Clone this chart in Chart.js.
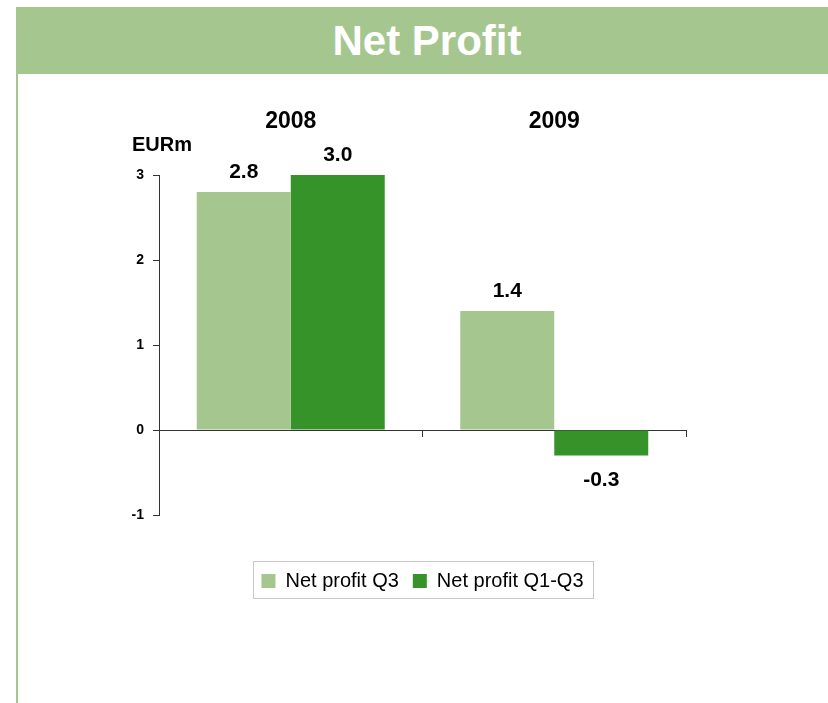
<!DOCTYPE html>
<html lang="en">
<head>
  <meta charset="UTF-8">
  <title>Net Profit</title>
  <script src="https://cdn.jsdelivr.net/npm/chart.js"></script>
  <style>
    body {
      margin: 0;
      background: #fff;
      font-family: "Liberation Sans", Arial, sans-serif;
    }
    #header {
      position: absolute;
      left: 16px;
      top: 7px;
      width: 812px;
      height: 67px;
      box-sizing: border-box;
      padding-left: 10px;
      background: #a6c68f;
      color: #fff;
      font-weight: bold;
      font-size: 42px;
      line-height: 67px;
      text-align: center;
    }
    #leftBorder {
      position: absolute;
      left: 16px;
      top: 74px;
      width: 2px;
      height: 629px;
      background: #a6c68f;
    }
    #wrap {
      position: absolute;
      left: 19px;
      top: 74px;
      width: 809px;
      height: 629px;
    }
  </style>
</head>
<body>
  <div id="header">Net Profit</div>
  <div id="leftBorder"></div>
  <div id="wrap"><canvas id="profitChart" width="809" height="629"></canvas></div>

  <script>
    const years = ['2008', '2009'];
    const netProfitQ3 = [2.8, 1.4];
    const netProfitQ1Q3 = [3.0, -0.3];
    const yMin = -1;
    const yMax = 3;
    const unitLabel = 'EURm';

    const lightGreen = '#a6c68f';
    const darkGreen = '#35932a';
    const axisColor = '#333';

    Chart.defaults.font.family = '"Liberation Sans", Arial, sans-serif';
    Chart.defaults.color = '#000';

    // value labels above / below the bars
    const valueLabels = {
      id: 'valueLabels',
      afterDatasetsDraw(chart) {
        const ctx = chart.ctx;
        ctx.save();
        ctx.font = 'bold 21px "Liberation Sans", Arial, sans-serif';
        ctx.fillStyle = '#000';
        ctx.textAlign = 'center';
        ctx.textBaseline = 'alphabetic';
        chart.data.datasets.forEach((ds, i) => {
          chart.getDatasetMeta(i).data.forEach((bar, j) => {
            const v = ds.data[j];
            const y = v >= 0 ? bar.y - 14 : bar.y + 30;
            ctx.fillText(v.toFixed(1), bar.x, y);
          });
        });
        ctx.restore();
      }
    };

    // unit label + frame around the legend
    const extras = {
      id: 'extras',
      afterDraw(chart) {
        const ctx = chart.ctx;
        const area = chart.chartArea;
        ctx.save();
        ctx.font = 'bold 20px "Liberation Sans", Arial, sans-serif';
        ctx.fillStyle = '#000';
        ctx.textAlign = 'left';
        ctx.textBaseline = 'alphabetic';
        ctx.fillText(unitLabel, area.left - 27, area.top - 24);

        const boxes = chart.legend.legendHitBoxes;
        if (boxes && boxes.length) {
          const l = Math.min(...boxes.map(b => b.left));
          const r = Math.max(...boxes.map(b => b.left + b.width));
          const t = Math.min(...boxes.map(b => b.top));
          const bt = Math.max(...boxes.map(b => b.top + b.height));
          ctx.strokeStyle = '#c8c8c8';
          ctx.lineWidth = 1;
          ctx.strokeRect(Math.round(l - 8) + 0.5, Math.round(t - 10) + 0.5, Math.round(r - l + 18), Math.round(bt - t + 17));
        }
        ctx.restore();
      }
    };

    new Chart(document.getElementById('profitChart').getContext('2d'), {
      type: 'bar',
      data: {
        labels: years,
        datasets: [
          {
            label: 'Net profit Q3',
            data: netProfitQ3,
            backgroundColor: lightGreen,
            borderWidth: 0
          },
          {
            label: 'Net profit Q1-Q3',
            data: netProfitQ1Q3,
            backgroundColor: darkGreen,
            borderWidth: 0
          }
        ]
      },
      options: {
        responsive: false,
        animation: false,
        devicePixelRatio: 1,
        categoryPercentage: 0.7135,
        barPercentage: 1,
        layout: {
          padding: { top: 31, left: 0, right: 142, bottom: 102 }
        },
        scales: {
          x: {
            axis: 'x',
            type: 'category',
            position: { y: 0 },
            offset: true,
            z: 1,
            grid: { offset: true, drawOnChartArea: false, drawTicks: true, tickLength: 6, color: axisColor },
            border: { color: axisColor, width: 1 },
            ticks: { display: false }
          },
          xTop: {
            axis: 'x',
            type: 'category',
            position: 'top',
            offset: true,
            grid: { display: false, drawTicks: false },
            border: { display: false },
            ticks: { font: { size: 23, weight: 'bold' }, color: '#000', padding: 40 },
            afterFit: s => { s.height = 70; }
          },
          y: {
            min: yMin,
            max: yMax,
            ticks: { stepSize: 1, font: { size: 14, weight: 'bold' }, color: '#000', padding: 9 },
            grid: { drawOnChartArea: false, tickLength: 6, color: axisColor },
            border: { color: axisColor, width: 1 },
            afterFit: s => { s.width = 140; }
          }
        },
        plugins: {
          tooltip: { enabled: false },
          legend: {
            position: 'bottom',
            fullSize: false,
            title: { display: true, text: '', font: { size: 10 }, padding: { top: 30, bottom: 0 } },
            labels: {
              boxWidth: 14,
              boxHeight: 14,
              padding: 14,
              color: '#000',
              font: { size: 20 }
            }
          }
        }
      },
      plugins: [valueLabels, extras]
    });
  </script>
</body>
</html>
